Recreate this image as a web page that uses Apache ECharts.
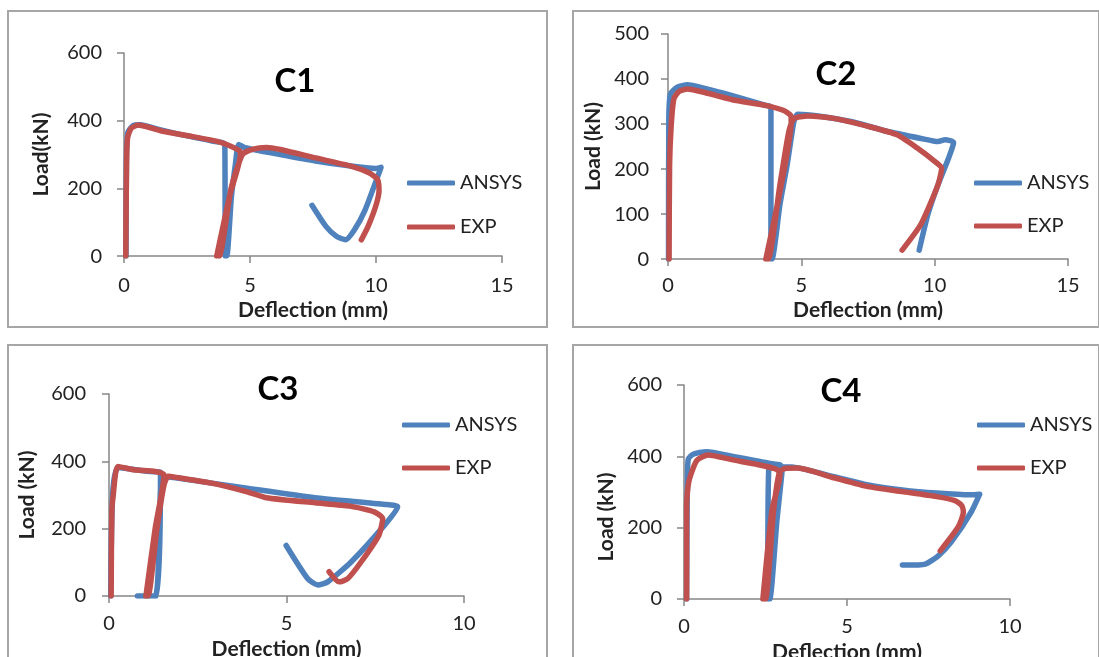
<!DOCTYPE html>
<html lang="en">
<head>
<meta charset="UTF-8">
<title>Load - Deflection C1-C4</title>
<script src="https://cdn.jsdelivr.net/npm/echarts@6/dist/echarts.min.js"></script>
<style>
  html, body { margin: 0; padding: 0; background: #fff; overflow: hidden; }
  body { width: 1099px; height: 657px; position: relative; }
  .panel { position: absolute; box-sizing: border-box; border: 2px solid #a6a6a6; background: #fff; }
</style>
</head>
<body>
<div id="c1" class="panel" style="left:7px; top:10px; width:541px; height:318px;"></div>
<div id="c2" class="panel" style="left:572px; top:10px; width:528px; height:318px;"></div>
<div id="c3" class="panel" style="left:7px; top:344px; width:541px; height:330px;"></div>
<div id="c4" class="panel" style="left:572px; top:344px; width:528px; height:330px;"></div>
<script>
// series names and colours
var seriesNames = ["ANSYS", "EXP"];
var colors = ["#4f81bd", "#c0504d"];

// [deflection mm, load kN]
var ansysC1 = [[0.08,0],[0.1,300],[0.15,365],[0.35,385],[0.63,388],[1.5,372],[2.5,355],[3.5,340],[4.0,330],
  [4.02,0],[4.08,0],[4.26,174],[4.42,271],[4.55,330],[4.8,320],[6.2,300],[7.6,281],[9.0,266],[9.98,259],
  [10.2,262],[10.1,242],[9.56,135],[9.14,77],[8.79,48],[8.44,58],[8.02,87],[7.46,150]];
var expC1 = [[0.07,0],[0.1,270],[0.14,348],[0.28,377],[0.56,387],[0.91,382],[1.6,368],[2.72,353],[3.7,339],
  [4.26,324],[4.6,310],[4.62,300],[4.2,180],[3.68,0],[3.78,0],[4.25,200],[4.7,300],[5.09,315],[5.65,321],
  [6.2,315],[7.6,290],[9.0,266],[9.7,247],[10.05,228],[10.12,194],[10.0,150],[9.7,90],[9.42,48]];

var ansysC2 = [[0.02,0],[0.03,310],[0.09,367],[0.35,382],[0.73,387],[1.38,379],[2.41,363],[3.7,341],[3.86,338],
  [3.86,0],[3.9,0],[4.2,122],[4.47,210],[4.72,305],[4.86,322],[5.63,318],[6.91,305],[8.2,284],[9.49,268],
  [10.13,261],[10.39,265],[10.71,259],[10.52,224],[10.13,166],[9.75,100],[9.42,20]];
var expC2 = [[0.04,0],[0.06,210],[0.12,297],[0.22,356],[0.41,372],[0.73,378],[1.38,370],[2.41,354],[3.7,341],
  [4.34,330],[4.6,319],[4.62,305],[4.2,150],[3.67,0],[3.76,0],[4.2,166],[4.53,283],[4.72,312],[5.24,318],
  [6.27,312],[7.56,294],[8.59,276],[9.36,246],[10.0,217],[10.26,202],[10.13,166],[9.49,78],[8.78,20]];

var ansysC3 = [[0.05,0],[0.1,300],[0.25,382],[0.89,373],[1.28,369],[1.45,368],[1.35,0],[0.8,0],[1.3,0],
  [1.42,200],[1.5,355],[1.87,351],[3.84,321],[5.8,292],[7.78,272],[8.13,265],[7.75,209],[6.82,101],
  [6.16,42],[5.88,33],[5.6,51],[4.99,150]];
var expC3 = [[0.06,0],[0.08,250],[0.12,300],[0.25,385],[0.7,375],[1.3,370],[1.55,360],[1.3,200],[1.04,0],
  [1.1,0],[1.35,200],[1.55,330],[1.67,356],[1.97,351],[2.85,336],[3.84,311],[4.43,292],[5.8,277],[6.79,267],
  [7.47,250],[7.71,230],[7.6,180],[7.1,101],[6.72,51],[6.48,42],[6.2,72]];

var ansysC4 = [[0.08,0],[0.1,308],[0.13,392],[0.28,406],[0.69,413],[1.5,400],[2.2,388],[2.6,381],[2.95,376],
  [3.0,370],[2.6,365],[2.57,0],[2.63,0],[2.85,220],[3.0,350],[3.03,371],[3.55,367],[4.6,343],[5.65,320],
  [6.7,306],[7.75,297],[8.8,292],[9.07,294],[8.81,244],[8.2,160],[7.8,121],[7.4,98],[6.79,95],[6.7,95]];
var expC4 = [[0.08,0],[0.08,262],[0.15,330],[0.39,388],[0.74,404],[1.5,390],[2.2,378],[2.83,364],[2.95,350],
  [2.7,250],[2.42,0],[2.5,0],[2.75,250],[2.93,356],[3.1,366],[3.48,367],[4.6,340],[5.65,315],[6.7,301],
  [7.75,287],[8.31,276],[8.52,262],[8.57,244],[8.41,202],[7.86,135]];

// axes
var titles = ["C1", "C2", "C3", "C4"];
var yNames = ["Load(kN)", "Load (kN)", "Load (kN)", "Load (kN)"];
var xName = "Deflection (mm)";
var xMax = [15, 15, 10, 10];
var yMax = [600, 500, 600, 600];
var yStep = [200, 100, 200, 200];

var FONT = "Lato, 'Open Sans', sans-serif";

function makeChart(id, i, ansys, exp, lay) {
  var chart = echarts.init(document.getElementById(id));
  var axisLine = { lineStyle: { color: "#868686", width: 1.5 } };
  var axisTick = { show: true, inside: false, length: 7, lineStyle: { color: "#868686", width: 1.5 } };
  var option = {
    animation: false,
    textStyle: { fontFamily: FONT },
    grid: lay.grid,
    graphic: [{
      type: "text", x: lay.title[0], y: lay.title[1],
      style: { text: titles[i], fill: "#000", font: "bold 33px " + FONT,
               align: "center", verticalAlign: "top", textAlign: "center", textVerticalAlign: "top" }
    }],
    legend: {
      data: seriesNames, orient: "vertical", left: lay.legend[0], top: lay.legend[1],
      itemGap: lay.legend[2], itemWidth: 48, itemHeight: 5, icon: "roundRect",
      padding: 0, selectedMode: false,
      textStyle: { fontSize: 20, color: "#222", lineHeight: 20, fontFamily: FONT, padding: [0, 0, 0, 0] }
    },
    xAxis: {
      type: "value", min: 0, max: xMax[i], interval: 5,
      name: xName, nameLocation: "middle", nameGap: lay.xGap,
      nameTextStyle: { fontSize: 21, fontWeight: "bold", color: "#222", fontFamily: FONT },
      axisLine: axisLine, axisTick: axisTick, splitLine: { show: false },
      axisLabel: { fontSize: 20, color: "#222", margin: lay.xLabel, fontFamily: FONT }
    },
    yAxis: {
      type: "value", min: 0, max: yMax[i], interval: yStep[i],
      name: yNames[i], nameLocation: "middle", nameGap: lay.yGap, nameRotate: 90,
      nameTextStyle: { fontSize: 21, fontWeight: "bold", color: "#222", fontFamily: FONT, padding: lay.yPad || 0 },
      axisLine: { show: true, lineStyle: axisLine.lineStyle }, axisTick: axisTick, splitLine: { show: false },
      axisLabel: { fontSize: 20, color: "#222", margin: lay.yLabel, fontFamily: FONT }
    },
    series: [ansys, exp].map(function (d, k) {
      return {
        name: seriesNames[k], type: "line", data: d, symbol: "none", smooth: 0.2,
        color: colors[k],
        lineStyle: { width: 5.5, color: colors[k], cap: "round", join: "round" }
      };
    })
  };
  chart.setOption(option);
  return chart;
}

makeChart("c1", 0, ansysC1, expC1, {
  grid: { left: 115, top: 41, width: 378, height: 207 },
  title: [286, 53], legend: [398, 161, 24], xGap: 39, xLabel: 19, yGap: 72, yLabel: 22
});
makeChart("c2", 1, ansysC2, expC2, {
  grid: { left: 94, top: 22, width: 400, height: 228 },
  title: [262, 46], legend: [400, 161, 23], xGap: 37, xLabel: 16, yGap: 63, yLabel: 19
});
makeChart("c3", 2, ansysC3, expC3, {
  grid: { left: 100, top: 48, width: 355, height: 202 },
  title: [269, 27], legend: [393, 69, 23], xGap: 35, xLabel: 18, yGap: 71, yLabel: 23
});
makeChart("c4", 3, ansysC4, expC4, {
  grid: { left: 110, top: 39, width: 326, height: 214 },
  title: [267, 29], legend: [403, 69, 23], xGap: 32, xLabel: 18, yGap: 66, yLabel: 22,
  yPad: [0, 50, 0, 0]
});
</script>
</body>
</html>
